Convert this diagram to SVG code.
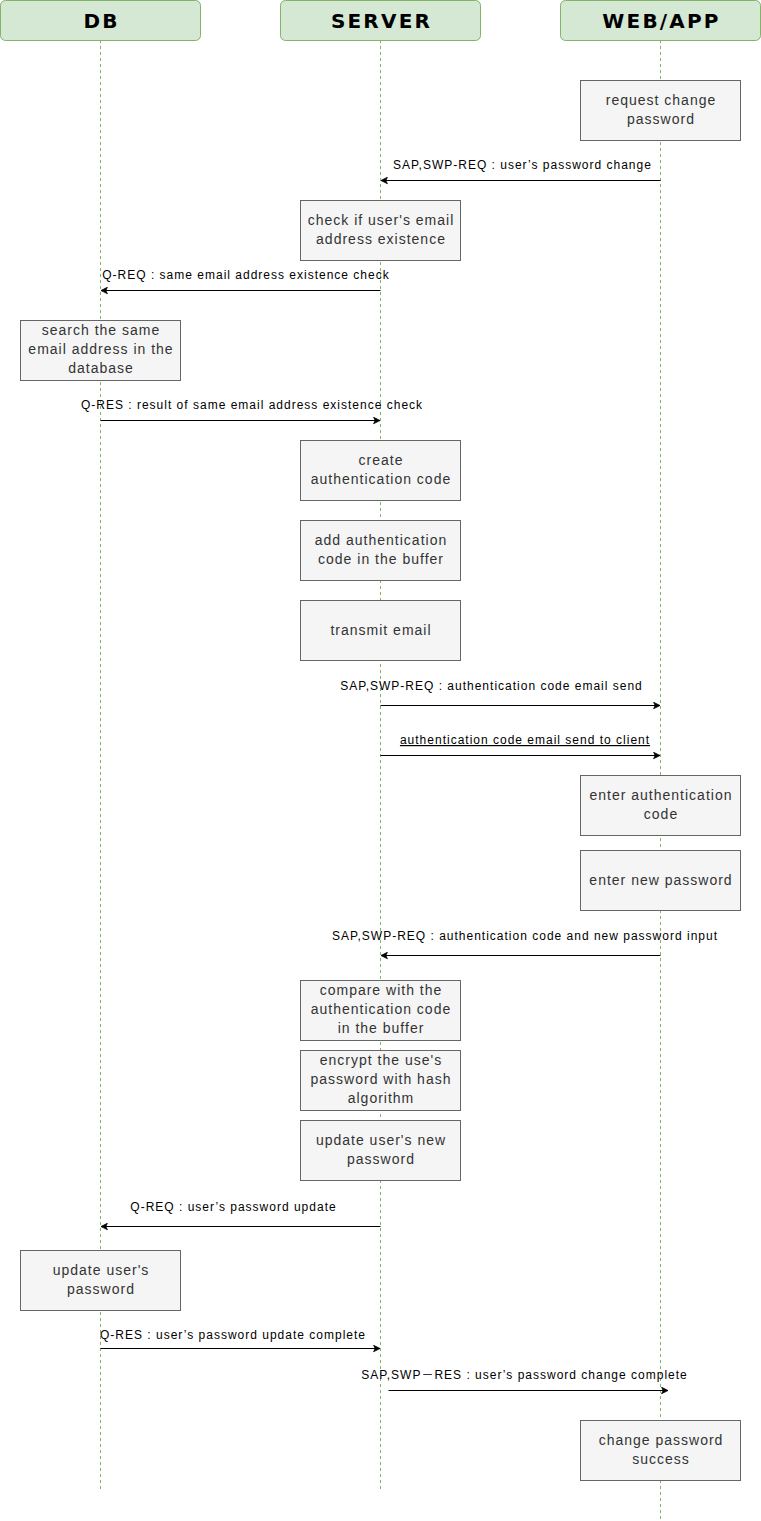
<svg xmlns="http://www.w3.org/2000/svg" width="761" height="1521" viewBox="0 0 761 1521">
  <style>
    .head rect { fill: #d5e8d4; stroke: #82b366; stroke-width: 1; }
    .head text { font-family: "DejaVu Sans", Verdana, sans-serif; font-weight: bold; font-size: 20px; letter-spacing: 2.2px; fill: #000; text-anchor: middle; }
    .life { stroke: #82b366; stroke-width: 1; stroke-dasharray: 3 3; fill: none; }
    .box rect { fill: #f5f5f5; stroke: #666666; stroke-width: 1; }
    .box text { font-family: "Liberation Sans", Arial, sans-serif; font-size: 14px; letter-spacing: 1px; fill: #333333; text-anchor: middle; }
    .msg line { stroke: #000; stroke-width: 1; marker-end: url(#arrow); }
    .msg text { font-family: "Liberation Sans", Arial, "Noto Sans CJK SC", sans-serif; font-size: 12px; letter-spacing: 1px; fill: #000; text-anchor: middle; }
  </style>
  <defs>
    <marker id="arrow" viewBox="0 0 10 10" refX="9" refY="5" markerWidth="8" markerHeight="8" markerUnits="userSpaceOnUse" orient="auto">
      <path d="M1,1 L9,5 L1,9 L3,5 Z" fill="#000" stroke="#000" stroke-width="1"/>
    </marker>
  </defs>
  <rect width="761" height="1521" fill="#ffffff"/>

  <!-- lifelines -->
  <g id="lifelines">
    <line class="life" x1="100.5" y1="40" x2="100.5" y2="1490"/>
    <line class="life" x1="380.5" y1="40" x2="380.5" y2="1490"/>
    <line class="life" x1="660.5" y1="40" x2="660.5" y2="1521"/>
  </g>

  <!-- participants -->
  <g id="db" class="head"><rect x="0.5" y="0.5" width="200" height="40" rx="5"/><text x="101.5" y="28">DB</text></g>
  <g id="server" class="head"><rect x="280.5" y="0.5" width="200" height="40" rx="5"/><text x="381.5" y="28">SERVER</text></g>
  <g id="webapp" class="head"><rect x="560.5" y="0.5" width="200" height="40" rx="5"/><text x="661.5" y="28">WEB/APP</text></g>

  <!-- activities -->
  <g id="request-change" class="box"><rect x="580.5" y="80.5" width="160" height="60"/><text x="661" y="105">request change</text><text x="661" y="124">password</text></g>
  <g id="check-email" class="box"><rect x="300.5" y="200.5" width="160" height="60"/><text x="381" y="225">check if user's email</text><text x="381" y="244">address existence</text></g>
  <g id="search-email" class="box"><rect x="20.5" y="320.5" width="160" height="60"/><text x="101" y="335">search the same</text><text x="101" y="354">email address in the</text><text x="101" y="373">database</text></g>
  <g id="create-code" class="box"><rect x="300.5" y="440.5" width="160" height="60"/><text x="381" y="465">create</text><text x="381" y="484">authentication code</text></g>
  <g id="add-buffer" class="box"><rect x="300.5" y="520.5" width="160" height="60"/><text x="381" y="545">add authentication</text><text x="381" y="564">code in the buffer</text></g>
  <g id="transmit" class="box"><rect x="300.5" y="600.5" width="160" height="60"/><text x="381" y="635">transmit email</text></g>
  <g id="enter-code" class="box"><rect x="580.5" y="775.5" width="160" height="60"/><text x="661" y="800">enter authentication</text><text x="661" y="819">code</text></g>
  <g id="enter-password" class="box"><rect x="580.5" y="850.5" width="160" height="60"/><text x="661" y="885">enter new password</text></g>
  <g id="compare" class="box"><rect x="300.5" y="980.5" width="160" height="60"/><text x="381" y="995">compare with the</text><text x="381" y="1014">authentication code</text><text x="381" y="1033">in the buffer</text></g>
  <g id="encrypt" class="box"><rect x="300.5" y="1050.5" width="160" height="60"/><text x="381" y="1065">encrypt the use's</text><text x="381" y="1084">password with hash</text><text x="381" y="1103">algorithm</text></g>
  <g id="update-new" class="box"><rect x="300.5" y="1120.5" width="160" height="60"/><text x="381" y="1145">update user's new</text><text x="381" y="1164">password</text></g>
  <g id="update-db" class="box"><rect x="20.5" y="1250.5" width="160" height="60"/><text x="101" y="1275">update user's</text><text x="101" y="1294">password</text></g>
  <g id="success" class="box"><rect x="580.5" y="1420.5" width="160" height="60"/><text x="661" y="1445">change password</text><text x="661" y="1464">success</text></g>

  <!-- messages -->
  <g id="connectors" class="msg">
    <line x1="660.5" y1="180.5" x2="381" y2="180.5"/>
    <text x="522.5" y="169">SAP,SWP-REQ : user’s password change</text>

    <line x1="380.5" y1="290.5" x2="101" y2="290.5"/>
    <text x="246" y="279">Q-REQ : same email address existence check</text>

    <line x1="100.5" y1="420.5" x2="380" y2="420.5"/>
    <text x="252" y="409">Q-RES : result of same email address existence check</text>

    <line x1="380.5" y1="705.5" x2="660" y2="705.5"/>
    <text x="491.5" y="690">SAP,SWP-REQ : authentication code email send</text>

    <line x1="380.5" y1="755.5" x2="660" y2="755.5"/>
    <text x="525" y="744" text-decoration="underline">authentication code email send to client</text>

    <line x1="660.5" y1="955.5" x2="381" y2="955.5"/>
    <text x="525" y="940">SAP,SWP-REQ : authentication code and new password input</text>

    <line x1="380.5" y1="1226.5" x2="101" y2="1226.5"/>
    <text x="233.5" y="1211">Q-REQ : user’s password update</text>

    <line x1="100.5" y1="1348.5" x2="380" y2="1348.5"/>
    <text x="233" y="1339">Q-RES : user’s password update complete</text>

    <line x1="388.5" y1="1390.5" x2="668" y2="1390.5"/>
    <text x="524.5" y="1379">SAP,SWP－RES : user’s password change complete</text>
  </g>
</svg>
